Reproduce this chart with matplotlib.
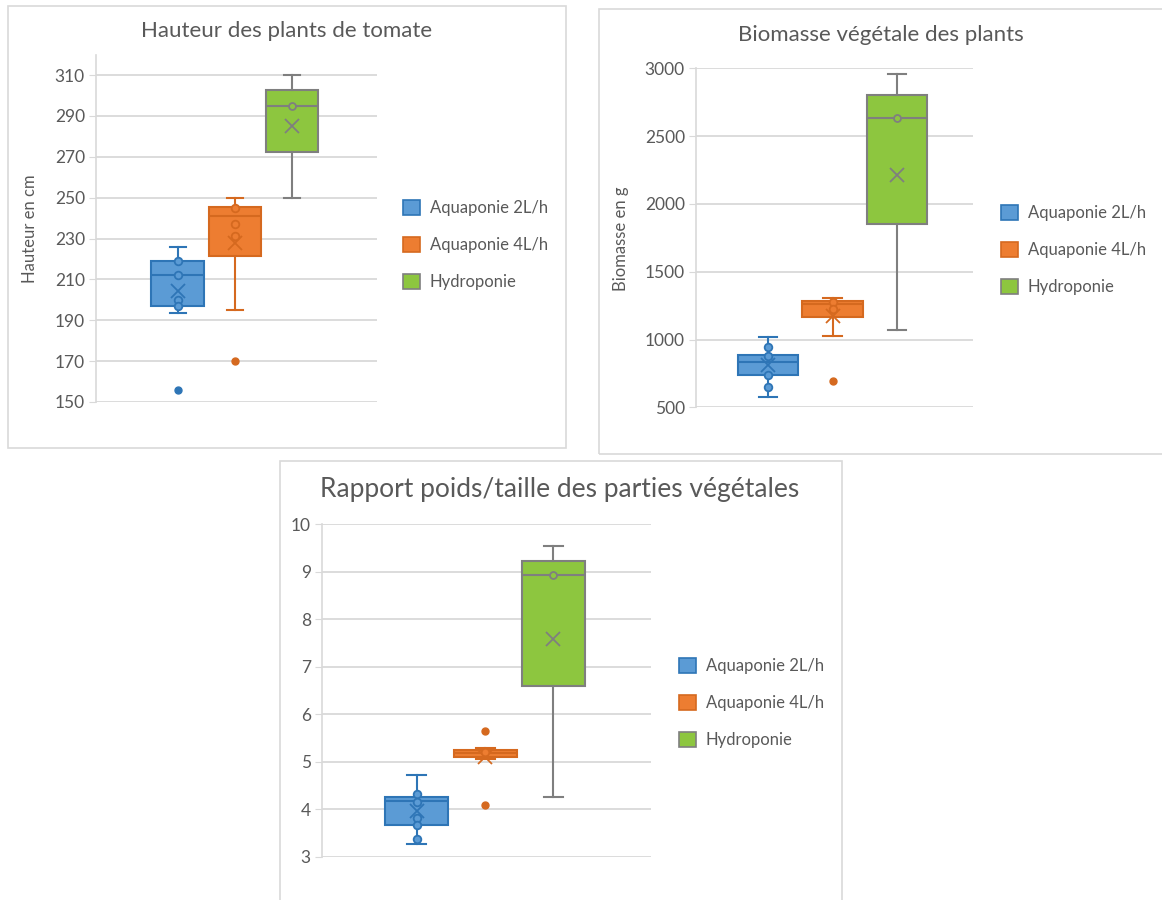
import matplotlib.pyplot as plt
from matplotlib.patches import Rectangle, Patch

plt.rcParams["font.family"] = ["Lato", "DejaVu Sans"]

W, H = 1162, 900

series = ["Aquaponie 2L/h", "Aquaponie 4L/h", "Hydroponie"]
fills = ["#5B9BD5", "#ED7D31", "#8DC63F"]
edges = ["#2E75B6", "#D5691F", "#7F7F7F"]
grey = "#595959"
light = "#D9D9D9"

# Hauteur des plants (cm)
hauteur_whislo = [193.5, 195, 250]
hauteur_q1 = [197, 221.5, 272.5]
hauteur_med = [212, 241, 295]
hauteur_q3 = [219, 245.5, 302.5]
hauteur_whishi = [226, 250, 310]
hauteur_mean = [204.3, 227.7, 285]
hauteur_points = [[219, 212, 200, 197], [244.8, 237, 231], [295]]
hauteur_outliers = [[156], [170], []]

# Biomasse (g)
biomasse_whislo = [578, 1029, 1071]
biomasse_q1 = [740, 1169, 1852]
biomasse_med = [833, 1262, 2634]
biomasse_q3 = [887, 1283, 2800]
biomasse_whishi = [1015, 1309, 2958]
biomasse_mean = [815, 1175, 2213]
biomasse_points = [[948, 880, 740, 653], [1275, 1226], [2634]]
biomasse_outliers = [[], [695], []]

# Rapport poids/taille
rapport_whislo = [3.26, 5.06, 4.26]
rapport_q1 = [3.66, 5.11, 6.59]
rapport_med = [4.17, 5.18, 8.93]
rapport_q3 = [4.26, 5.24, 9.23]
rapport_whishi = [4.72, 5.29, 9.54]
rapport_mean = [3.97, 5.10, 7.58]
rapport_points = [[4.31, 4.15, 3.81, 3.66, 3.38], [5.2], [8.93]]
rapport_outliers = [[], [5.65, 4.09], []]


def px_axes(fig, x0, y0, x1, y1):
    # pixel box (top-left origin) -> figure axes
    return fig.add_axes([x0 / W, 1 - y1 / H, (x1 - x0) / W, (y1 - y0) / H])


def frame(fig, x0, y0, x1, y1):
    fig.add_artist(Rectangle((x0 / W, 1 - y1 / H), (x1 - x0) / W, (y1 - y0) / H,
                             transform=fig.transFigure, fill=False, ec=light, lw=1.2))


def draw(ax, whislo, q1, med, q3, whishi, mean, points, outliers,
         ylim, ticks, xlim, width):
    for i in range(3):
        st = dict(whislo=whislo[i], q1=q1[i], med=med[i], q3=q3[i],
                  whishi=whishi[i], mean=mean[i], fliers=outliers[i])
        ec = edges[i]
        ax.bxp([st], positions=[i + 1], widths=width, capwidths=width * 0.3,
               patch_artist=True, showmeans=True,
               boxprops=dict(facecolor=fills[i], edgecolor=ec, linewidth=1.5),
               medianprops=dict(color=ec, linewidth=1.5),
               whiskerprops=dict(color=ec, linewidth=1.5),
               capprops=dict(color=ec, linewidth=1.5),
               meanprops=dict(marker="x", markeredgecolor=ec, markersize=10,
                              markeredgewidth=1.3),
               flierprops=dict(marker="o", markerfacecolor=ec, markeredgecolor=ec,
                               markersize=5))
        ax.plot([i + 1] * len(points[i]), points[i], "o", mfc=fills[i], mec=ec,
                mew=1.3, ms=5.5 if i < 2 else 5, ls="none", zorder=4)
    ax.set_ylim(*ylim)
    ax.set_yticks(ticks)
    ax.set_xlim(*xlim)
    ax.set_xticks([])
    ax.yaxis.grid(True, color=light, linewidth=1.3)
    ax.set_axisbelow(True)
    for s in ["top", "right", "bottom"]:
        ax.spines[s].set_visible(False)
    ax.spines["left"].set_color(light)
    ax.spines["left"].set_linewidth(1.2)
    ax.tick_params(axis="y", length=5, color=light, labelcolor=grey,
                   labelsize=12.5, pad=3)
    ax.patch.set_alpha(0)


def legend(fig, x, y):
    handles = [Patch(facecolor=fills[i], edgecolor=edges[i], linewidth=1.2)
               for i in range(3)]
    fig.legend(handles, series, loc="center left",
               bbox_to_anchor=(x / W, 1 - y / H), frameon=False, fontsize=12,
               handlelength=1.0, handleheight=1.0, handletextpad=0.6,
               labelspacing=1.25, borderpad=0, borderaxespad=0, labelcolor=grey)


fig = plt.figure(figsize=(W / 100, H / 100), dpi=100)

# chart 1
frame(fig, 8, 6, 566, 448)
ax1 = px_axes(fig, 96, 55, 377, 402)
draw(ax1, hauteur_whislo, hauteur_q1, hauteur_med, hauteur_q3, hauteur_whishi,
     hauteur_mean, hauteur_points, hauteur_outliers,
     (150, 319.8), range(150, 311, 20), (-0.43, 4.49), 0.92)
fig.text(287, H - 31, "Hauteur des plants de tomate", transform=None,
         ha="center", va="center", fontsize=16, color=grey)
fig.text(30, H - 229, "Hauteur en cm", transform=None, rotation=90,
         ha="center", va="center", fontsize=12, color=grey)
legend(fig, 403, 245)

# chart 2
frame(fig, 599, 9, 1175, 454)
ax2 = px_axes(fig, 696, 68.3, 973, 407.3)
draw(ax2, biomasse_whislo, biomasse_q1, biomasse_med, biomasse_q3, biomasse_whishi,
     biomasse_mean, biomasse_points, biomasse_outliers,
     (500, 3000), range(500, 3001, 500), (-0.12, 4.18), 0.94)
fig.text(881, H - 35, "Biomasse végétale des plants", transform=None,
         ha="center", va="center", fontsize=16, color=grey)
fig.text(621, H - 239, "Biomasse en g", transform=None, rotation=90,
         ha="center", va="center", fontsize=12, color=grey)
legend(fig, 1001, 250)

# chart 3
frame(fig, 280, 461, 842, 910)
ax3 = px_axes(fig, 322, 524.3, 651, 856.7)
draw(ax3, rapport_whislo, rapport_q1, rapport_med, rapport_q3, rapport_whishi,
     rapport_mean, rapport_points, rapport_outliers,
     (3, 10), range(3, 11), (-0.39, 4.43), 0.92)
fig.text(560, H - 490, "Rapport poids/taille des parties végétales", transform=None,
         ha="center", va="center", fontsize=19, color=grey)
legend(fig, 679, 703)

fig.savefig("out.png", dpi=100, facecolor="white")
